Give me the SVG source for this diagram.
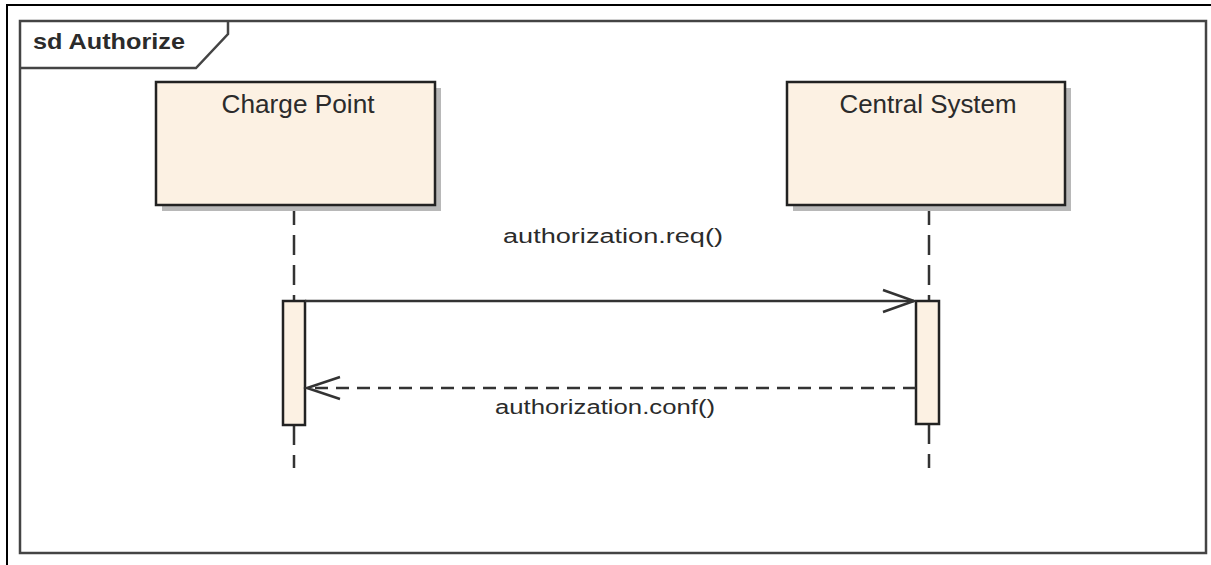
<svg xmlns="http://www.w3.org/2000/svg" width="1211" height="565" viewBox="0 0 1211 565">
  <style>
    .lbl { font-family: "Liberation Sans", Arial, sans-serif; fill: #2b2b2b; }
    .frame { fill: none; stroke: #444; stroke-width: 2.5; }
    .box { fill: #fcf1e3; stroke: #222; stroke-width: 2.5; }
    .shadow { fill: #b8b8b8; }
    .life { stroke: #333; stroke-width: 2.5; stroke-dasharray: 20 10; fill: none; }
    .act { fill: #fcf1e3; stroke: #222; stroke-width: 2.5; }
    .msg { stroke: #333; stroke-width: 2.5; fill: none; }
    .ret { stroke: #333; stroke-width: 2.5; fill: none; stroke-dasharray: 13 8; }
  </style>

  <rect x="0" y="0" width="1211" height="565" fill="#fff"/>
  <!-- page border -->
  <path d="M7 565 V5 H1211" fill="none" stroke="#000" stroke-width="2"/>

  <!-- sequence frame -->
  <g id="frame">
    <rect class="frame" x="20" y="21" width="1186" height="532"/>
    <path class="frame" d="M20 68 H196 L228 34 V21"/>
    <text class="lbl" x="33" y="49" font-size="22" font-weight="bold" textLength="152" lengthAdjust="spacingAndGlyphs">sd Authorize</text>
  </g>

  <!-- lifelines -->
  <g id="lifelines">
    <path class="life" d="M294 205 V301 M294 425 V468"/>
    <path class="life" d="M929 205 V301 M929 424 V468"/>
  </g>

  <g id="charge-point">
    <rect class="shadow" x="162" y="88" width="279" height="123"/>
    <rect class="box" x="156" y="82" width="279" height="123"/>
    <text class="lbl" x="298" y="113" font-size="25" text-anchor="middle" textLength="153" lengthAdjust="spacingAndGlyphs">Charge Point</text>
  </g>

  <g id="central-system">
    <rect class="shadow" x="793" y="88" width="278" height="123"/>
    <rect class="box" x="787" y="82" width="278" height="123"/>
    <text class="lbl" x="928" y="113" font-size="25" text-anchor="middle" textLength="177" lengthAdjust="spacingAndGlyphs">Central System</text>
  </g>

  <g id="activation-cp">
    <rect class="act" x="283" y="301" width="22" height="124"/>
  </g>
  <g id="activation-cs">
    <rect class="act" x="916" y="301" width="23" height="123"/>
  </g>

  <!-- messages -->
  <g id="connectors">
    <path class="msg" d="M305 301 H914"/>
    <path class="msg" d="M883 290 L914 301 L883 312"/>
    <text class="lbl" x="613" y="243" font-size="20" text-anchor="middle" textLength="220" lengthAdjust="spacingAndGlyphs">authorization.req()</text>

    <path class="ret" d="M916 388 H307"/>
    <path class="msg" d="M340 377 L307 388 L340 399"/>
    <text class="lbl" x="605" y="414" font-size="20" text-anchor="middle" textLength="220" lengthAdjust="spacingAndGlyphs">authorization.conf()</text>
  </g>
</svg>
